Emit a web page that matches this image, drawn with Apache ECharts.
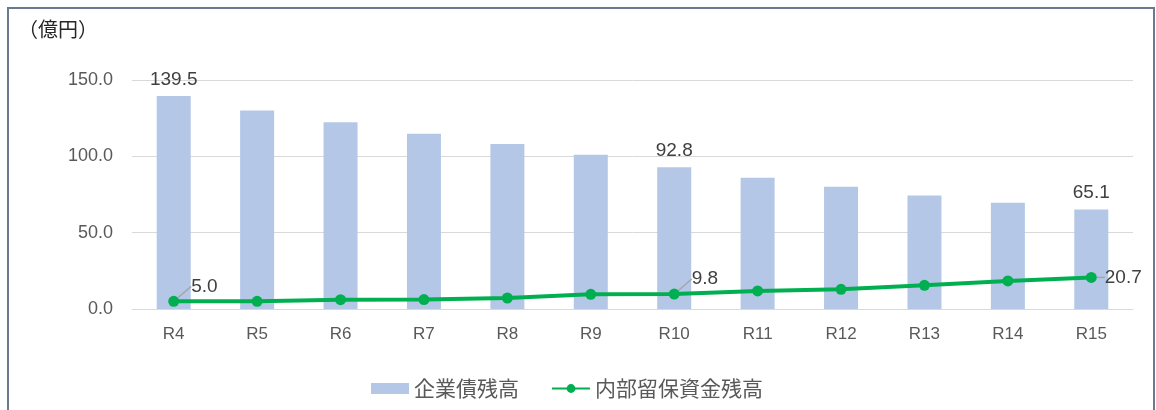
<!DOCTYPE html>
<html><head><meta charset="utf-8">
<script src="https://cdn.jsdelivr.net/npm/echarts@6/dist/echarts.min.js"></script>
<style>html,body{margin:0;padding:0;background:#fff;}#c{width:1156px;height:410px;}</style>
</head><body><div id="c"></div>
<script>
const categories = ['R4','R5','R6','R7','R8','R9','R10','R11','R12','R13','R14','R15'];
const bondValues = [139.5,130.0,122.4,114.8,108.1,101.1,92.8,85.9,80.0,74.4,69.6,65.1];
const reserveValues = [5.0,5.0,6.1,6.2,7.2,9.6,9.8,11.8,12.9,15.5,18.4,20.7];
const labeledIndices = [0,6,11];
const yTicks = [0,50,100,150];
const seriesNames = ['企業債残高','内部留保資金残高'];
const unitLabel = '（億円）';

const font = '"Liberation Sans","Noto Sans CJK JP",sans-serif';
const cjk = '"Noto Sans CJK JP",sans-serif';
const chart = echarts.init(document.getElementById('c'));
chart.setOption({
  animation:false,
  textStyle:{fontFamily:font},
  graphic:[
    {type:'rect',shape:{x:8,y:8,width:1146,height:430},style:{fill:'none',stroke:'#6B7A90',lineWidth:2},silent:true},
    {type:'text',left:18,top:19,style:{text:unitLabel,fontSize:20,fill:'#262626',fontFamily:cjk}}
  ],
  grid:{left:132,right:23,top:80,bottom:101},
  legend:{
    bottom:6,left:366,itemGap:32,itemWidth:38,itemHeight:11,
    textStyle:{fontSize:21,color:'#595959',fontFamily:cjk},
    data:[{name:seriesNames[0],icon:'rect'},{name:seriesNames[1]}]
  },
  xAxis:{
    type:'category',data:categories,
    axisLine:{lineStyle:{color:'#D9D9D9',width:1}},
    axisTick:{show:false},
    axisLabel:{color:'#595959',fontSize:17,margin:17}
  },
  yAxis:{
    type:'value',min:yTicks[0],max:yTicks[yTicks.length-1],interval:50,
    axisLine:{show:false},axisTick:{show:false},
    splitLine:{lineStyle:{color:'#D9D9D9'}},
    axisLabel:{color:'#595959',fontSize:18,margin:19,formatter:v=>v.toFixed(1)}
  },
  series:[
    {
      name:seriesNames[0],type:'bar',barWidth:34,
      itemStyle:{color:'#B4C7E7'},
      data:bondValues.map((v,i)=>({value:v,label:{show:labeledIndices.includes(i)}})),
      label:{position:'top',distance:7,fontSize:19,color:'#404040',formatter:p=>p.value.toFixed(1)}
    },
    {
      name:seriesNames[1],type:'line',symbol:'circle',symbolSize:11,
      lineStyle:{color:'#00B050',width:4},itemStyle:{color:'#00B050'},
      data:reserveValues.map((v,i)=>({value:v,label:{show:labeledIndices.includes(i)}})),
      label:{position:'right',distance:8,fontSize:19,color:'#404040',formatter:p=>p.value.toFixed(1)},
      labelLine:{show:true,lineStyle:{color:'#A6A6A6',width:1.5}},
      z:3
    }
  ],
  labelLayout:function(p){
    if(p.seriesIndex===1 && p.dataIndex!==categories.length-1){
      return {dx:4,dy:-15};
    }
    return {};
  }
});
</script></body></html>
